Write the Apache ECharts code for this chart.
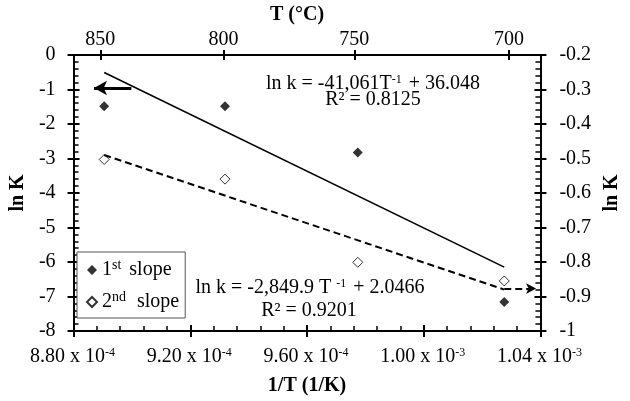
<!DOCTYPE html>
<html><head><meta charset="utf-8">
<script src="https://cdn.jsdelivr.net/npm/echarts@6/dist/echarts.min.js"></script>
<style>html,body{margin:0;padding:0;background:#fff}#c{width:630px;height:401px}</style>
</head><body><div id="c"></div>
<script>
// x values in units of 1e-4 K^-1
const invT = [8.905, 9.319, 9.774, 10.276];
const lnK1 = [-1.49, -1.49, -2.83, -7.16];
const lnK2 = [-0.503, -0.560, -0.801, -0.855];
const fit1X = [8.905, 10.276];
const fit1Y = [-0.51, -6.15];
const fit2X = [8.905, 10.276];
const fit2Y = [-0.49, -0.88];
const arrowLeftX = [8.998, 8.87];
const arrowLeftY = [-0.96, -0.96];
const arrowRightX = [10.276, 10.385];
const arrowRightY = [-0.877, -0.877];
const topTickValues = [8.8916, 9.3141, 9.7622, 10.2924];
const topTickLabels = ['850', '800', '750', '700'];
const bottomTickLabels = [['8.80', '-4'], ['9.20', '-4'], ['9.60', '-4'], ['1.00', '-3'], ['1.04', '-3']];
const seriesNames = ['1st slope', '2nd slope'];
const legendLabels = ['1{s1|st} slope', '2{s2|nd}  slope'];
const eq1 = ['ln k = -41,061T{sup|-1} + 36.048', 'R\u00b2 = 0.8125'];
const eq2 = ['ln k = -2,849.9 T {sup|-1} + 2.0466', 'R\u00b2 = 0.9201'];

const FONT = 'Liberation Serif, Times New Roman, serif';
const FS = 20;
const supStyle = { fontSize: 12, fontFamily: FONT, color: '#000', verticalAlign: 'top', lineHeight: 12, padding: [0, 2, 0, 0] };

const chart = echarts.init(document.getElementById('c'), null, { renderer: 'canvas' });

const xMin = 8.8, xMax = 10.4, xInt = 0.4;
function baseX(extra) {
  return Object.assign({
    type: 'value', min: xMin, max: xMax, interval: xInt,
    splitLine: { show: false },
    axisLine: { show: true, onZero: false, lineStyle: { color: '#000', width: 2 } }
  }, extra);
}
function baseY(extra) {
  return Object.assign({
    type: 'value',
    splitLine: { show: false },
    axisLine: { show: true, onZero: false, lineStyle: { color: '#000', width: 2 } }
  }, extra);
}

const option = {
  backgroundColor: '#fff',
  animation: false,
  grid: { left: 60, right: 72, top: 47, bottom: 66, containLabel: false },
  textStyle: { fontFamily: FONT },
  xAxis: [
    baseX({
      position: 'bottom',
      name: '1/T (1/K)', nameLocation: 'middle', nameGap: 45,
      nameTextStyle: { fontFamily: FONT, fontSize: FS, fontWeight: 'bold', color: '#000' },
      axisTick: { show: true, inside: true, length: 6, lineStyle: { color: '#000', width: 2 } },
      minorTick: { show: true, splitNumber: 5, length: 5, lineStyle: { color: '#000', width: 1.5 } },
      axisLabel: {
        margin: 16, color: '#000', fontFamily: FONT, fontSize: FS, lineHeight: 20,
        formatter: function (v, i) {
          const t = bottomTickLabels[i];
          return t ? t[0] + ' x 10{sup|' + t[1] + '}' : '';
        },
        rich: { sup: supStyle }
      }
    }),
    baseX({
      position: 'bottom',
      axisTick: { show: true, inside: false, length: 6, lineStyle: { color: '#000', width: 2 } },
      axisLabel: { show: false }
    }),
    baseX({
      position: 'top',
      name: 'T (\u00b0C)', nameLocation: 'middle', nameGap: 17,
      nameTextStyle: { fontFamily: FONT, fontSize: FS, fontWeight: 'bold', color: '#000', padding: [0, 20, 0, 0] },
      axisTick: { show: true, inside: false, length: 5, customValues: topTickValues, lineStyle: { color: '#000', width: 2 } },
      axisLabel: {
        show: true, margin: 5, color: '#000', fontFamily: FONT, fontSize: FS,
        customValues: topTickValues,
        formatter: function (v) {
          let best = 0;
          for (let k = 1; k < topTickValues.length; k++) {
            if (Math.abs(topTickValues[k] - v) < Math.abs(topTickValues[best] - v)) best = k;
          }
          return topTickLabels[best];
        }
      }
    }),
    baseX({
      position: 'top',
      axisTick: { show: true, inside: true, length: 5, customValues: topTickValues, lineStyle: { color: '#000', width: 2 } },
      axisLabel: { show: false }
    })
  ],
  yAxis: [
    baseY({
      position: 'left', min: -8, max: 0, interval: 1,
      name: 'ln K', nameLocation: 'middle', nameGap: 33, nameRotate: 90,
      nameTextStyle: { fontFamily: FONT, fontSize: FS, fontWeight: 'bold', color: '#000' },
      axisTick: { show: true, inside: true, length: 6, lineStyle: { color: '#000', width: 2 } },
      minorTick: { show: true, splitNumber: 5, length: 5, lineStyle: { color: '#000', width: 1.5 } },
      axisLabel: { margin: 18, color: '#000', fontFamily: FONT, fontSize: FS }
    }),
    baseY({
      position: 'left', min: -8, max: 0, interval: 1,
      axisTick: { show: true, inside: false, length: 6, lineStyle: { color: '#000', width: 2 } },
      axisLabel: { show: false }
    }),
    baseY({
      position: 'right', min: -1, max: -0.2, interval: 0.1,
      name: 'ln K', nameLocation: 'middle', nameGap: 54, nameRotate: 90,
      nameTextStyle: { fontFamily: FONT, fontSize: FS, fontWeight: 'bold', color: '#000' },
      axisTick: { show: true, inside: true, length: 6, lineStyle: { color: '#000', width: 2 } },
      minorTick: { show: true, splitNumber: 5, length: 5, lineStyle: { color: '#000', width: 1.5 } },
      axisLabel: {
        margin: 19, color: '#000', fontFamily: FONT, fontSize: FS,
        formatter: function (v) { return String(Math.round(v * 10) / 10); }
      }
    }),
    baseY({
      position: 'right', min: -1, max: -0.2, interval: 0.1,
      axisTick: { show: true, inside: false, length: 6, lineStyle: { color: '#000', width: 2 } },
      axisLabel: { show: false }
    })
  ],
  legend: {
    data: [
      { name: seriesNames[0], icon: 'diamond' },
      { name: seriesNames[1], icon: 'diamond' }
    ],
    orient: 'vertical', left: 77, top: 252,
    itemWidth: 10, itemHeight: 10, itemGap: 8,
    padding: [6, 6, 4, 9],
    backgroundColor: '#fff', borderColor: '#555', borderWidth: 1,
    textStyle: {
      fontFamily: FONT, fontSize: FS, color: '#000', lineHeight: 24,
      rich: {
        s1: { fontSize: 14, fontFamily: FONT, color: '#000', verticalAlign: 'top', lineHeight: 14, padding: [0, 3, 0, 0] },
        s2: { fontSize: 14, fontFamily: FONT, color: '#000', verticalAlign: 'top', lineHeight: 14, padding: [0, 1, 0, 0] }
      }
    },
    formatter: function (name) { return legendLabels[seriesNames.indexOf(name)]; }
  },
  series: [
    {
      name: 'fit1', type: 'line', xAxisIndex: 0, yAxisIndex: 0, silent: true,
      showSymbol: false, symbol: 'none',
      lineStyle: { color: '#000', width: 1.6, type: 'solid' },
      data: fit1X.map((x, i) => [x, fit1Y[i]]),
      markLine: {
        silent: true, symbol: ['none', 'arrow'], symbolSize: [11, 13],
        label: { show: false },
        lineStyle: { color: '#000', width: 3, type: 'solid' },
        data: [[{ coord: [arrowLeftX[0], arrowLeftY[0]] }, { coord: [arrowLeftX[1], arrowLeftY[1]] }]]
      }
    },
    {
      name: 'fit2', type: 'line', xAxisIndex: 0, yAxisIndex: 2, silent: true,
      showSymbol: false, symbol: 'none',
      lineStyle: { color: '#000', width: 2, type: [7, 4] },
      data: fit2X.map((x, i) => [x, fit2Y[i]]),
      markLine: {
        silent: true, symbol: ['none', 'arrow'], symbolSize: [8, 10],
        label: { show: false },
        lineStyle: { color: '#000', width: 2, type: [7, 4] },
        data: [[{ coord: [arrowRightX[0], arrowRightY[0]] }, { coord: [arrowRightX[1], arrowRightY[1]] }]]
      }
    },
    {
      name: seriesNames[0], type: 'scatter', xAxisIndex: 0, yAxisIndex: 0,
      symbol: 'diamond', symbolSize: 10,
      itemStyle: { color: '#000' },
      data: invT.map((x, i) => [x, lnK1[i]])
    },
    {
      name: seriesNames[1], type: 'scatter', xAxisIndex: 0, yAxisIndex: 2,
      symbol: 'diamond', symbolSize: 10,
      itemStyle: { color: '#fff', borderColor: '#000', borderWidth: 1 },
      data: invT.map((x, i) => [x, lnK2[i]])
    }
  ],
  graphic: [
    { type: 'text', x: 373, y: 84, style: { text: eq1[0], textAlign: 'center', textVerticalAlign: 'middle', font: FS + 'px ' + FONT, fill: '#000', rich: { sup: supStyle } } },
    { type: 'text', x: 373, y: 100, style: { text: eq1[1], textAlign: 'center', textVerticalAlign: 'middle', font: FS + 'px ' + FONT, fill: '#000' } },
    { type: 'text', x: 310, y: 288, style: { text: eq2[0], textAlign: 'center', textVerticalAlign: 'middle', font: FS + 'px ' + FONT, fill: '#000', rich: { sup: supStyle } } },
    { type: 'text', x: 309, y: 311, style: { text: eq2[1], textAlign: 'center', textVerticalAlign: 'middle', font: FS + 'px ' + FONT, fill: '#000' } }
  ]
};
chart.setOption(option);
</script>
</body></html>
